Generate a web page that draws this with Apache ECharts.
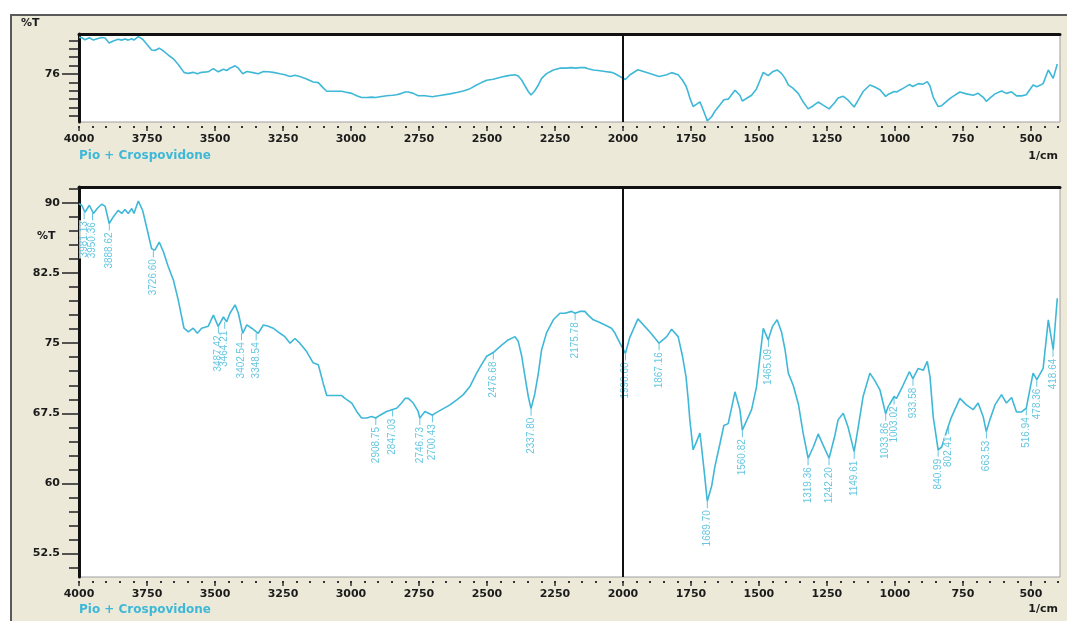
<!DOCTYPE html>
<html>
<head>
<meta charset="utf-8">
<title>Pio + Crospovidone</title>
<script src="https://cdn.jsdelivr.net/npm/echarts@6/dist/echarts.min.js"></script>
<style>
  html, body { margin: 0; padding: 0; background: #fff; overflow: hidden; }
  #frame { position: absolute; left: 10px; top: 14px; width: 1080px; height: 630px; background: #ece9d8; border: 2px solid #5a5a5a; }
  #chart { position: absolute; left: 0; top: 0; width: 1067px; height: 621px; }
</style>
</head>
<body>
<div id="frame"></div>
<div id="chart"></div>
<script>
// spectrum (1/cm, %T)
const wavenumber = [
  4000, 3990, 3978, 3962, 3947, 3933, 3917, 3904, 3889, 3874, 3856, 3843, 3831, 3819, 3806, 3798,
  3782, 3766, 3749, 3733, 3721, 3705, 3690, 3672, 3653, 3635, 3614, 3598, 3580, 3565, 3549, 3525,
  3506, 3488, 3469, 3457, 3445, 3426, 3414, 3398, 3383, 3365, 3341, 3322, 3304, 3286, 3261, 3243,
  3224, 3206, 3188, 3163, 3139, 3120, 3102, 3089, 3034, 3022, 2997, 2979, 2961, 2942, 2924, 2909,
  2893, 2869, 2847, 2832, 2814, 2801, 2789, 2771, 2753, 2747, 2728, 2722, 2700, 2691, 2667, 2636,
  2611, 2587, 2562, 2538, 2520, 2501, 2477, 2446, 2422, 2397, 2385, 2372, 2360, 2348, 2338, 2324,
  2311, 2299, 2281, 2256, 2232, 2213, 2189, 2176, 2158, 2140, 2128, 2109, 2091, 2066, 2042, 2029,
  2011, 1991, 1975, 1945, 1901, 1867, 1839, 1821, 1797, 1781, 1768, 1760, 1754, 1742, 1729, 1717,
  1711, 1702, 1693, 1690, 1674, 1662, 1643, 1629, 1613, 1588, 1570, 1561, 1527, 1509, 1496, 1484,
  1466, 1450, 1433, 1417, 1404, 1392, 1374, 1355, 1337, 1319, 1300, 1282, 1264, 1242, 1221, 1209,
  1190, 1172, 1150, 1135, 1117, 1092, 1074, 1055, 1034, 1025, 1003, 994, 970, 947, 934, 914,
  896, 881, 871, 859, 841, 828, 805, 792, 761, 737, 712, 694, 675, 664, 651, 632,
  608, 590, 571, 553, 534, 517, 492, 478, 455, 436, 418, 403
];
const transmittance = [
  89.9, 89.75, 89.0, 89.75, 88.87, 89.4, 89.86, 89.65, 87.8, 88.5, 89.2, 88.87, 89.3, 88.87, 89.4, 88.87,
  90.2, 89.2, 87.1, 85.1, 84.95, 85.8, 84.8, 83.2, 81.75, 79.6, 76.6, 76.2, 76.6, 76.06, 76.6, 76.8,
  78.0, 76.8, 77.8, 77.3, 78.2, 79.1, 78.2, 76.06, 76.95, 76.6, 76.06, 76.95, 76.8, 76.6, 76.06, 75.7,
  75.0, 75.5, 75.0, 74.1, 72.9, 72.7, 70.7, 69.4, 69.4, 69.1, 68.6, 67.7, 67.0, 67.0, 67.16, 67.0,
  67.3, 67.7, 67.9, 68.05, 68.6, 69.1, 69.1, 68.6, 67.7, 67.0, 67.7, 67.9, 67.3, 67.5, 67.9, 68.4,
  68.95, 69.5, 70.4, 71.8, 72.7, 73.6, 74.0, 74.8, 75.35, 75.7, 75.2, 73.6, 71.4, 69.3, 68.0, 69.6,
  71.8, 74.3, 76.1, 77.5, 78.2, 78.2, 78.4, 78.2, 78.4, 78.4, 78.0, 77.5, 77.3, 76.95, 76.6, 76.06,
  75.0, 73.9, 75.6, 77.6, 76.2, 75.0, 75.7, 76.5, 75.7, 73.6, 71.4, 68.95, 66.8, 63.6, 64.5, 65.4,
  63.9, 61.5, 59.0, 58.1, 59.7, 61.8, 64.3, 66.2, 66.4, 69.8, 67.9, 65.7, 67.9, 70.3, 73.6, 76.6,
  75.35, 76.8, 77.5, 76.2, 74.3, 71.8, 70.5, 68.5, 65.3, 62.7, 63.9, 65.3, 64.1, 62.7, 65.1, 66.8,
  67.5, 66.0, 63.4, 66.0, 69.3, 71.8, 71.0, 70.0, 67.45, 68.2, 69.3, 69.1, 70.5, 71.95, 71.2, 72.3,
  72.1, 73.05, 71.4, 67.1, 63.6, 63.9, 66.0, 67.1, 69.1, 68.4, 67.9, 68.6, 67.1, 65.55, 66.8, 68.4,
  69.5, 68.6, 69.2, 67.65, 67.65, 68.05, 71.8, 71.1, 72.3, 77.5, 74.3, 79.8
];

// labelled peaks
const peakWavenumber = [
  3981.13, 3950.36, 3888.62, 3726.60, 3487.42, 3464.21, 3402.54, 3348.54,
  2908.75, 2847.03, 2746.73, 2700.43, 2476.68, 2337.80, 2175.78, 1990.60,
  1867.16, 1689.70, 1560.82, 1465.09, 1319.36, 1242.20, 1149.61, 1033.86,
  1003.02, 933.58, 840.99, 802.41, 663.53, 516.94, 478.36, 418.64
];
const peakTransmittance = [
  89.0, 88.9, 87.8, 84.95, 76.8, 77.3, 76.06, 76.06,
  67.0, 67.9, 67.0, 67.3, 74.0, 68.0, 78.2, 73.9,
  75.0, 58.1, 65.7, 75.35, 62.7, 62.7, 63.4, 67.45,
  69.2, 71.2, 63.6, 66.0, 65.55, 68.05, 71.1, 74.3
];

// axis ticks
const xMajorTicks = [4000, 3750, 3500, 3250, 3000, 2750, 2500, 2250, 2000, 1750, 1500, 1250, 1000, 750, 500];
const xMinorTicks = [];
for (let w = 4000; w >= 400; w -= 50) xMinorTicks.push(w);
const topYMajor = [76];
const topYMinor = [60, 63.2, 66.4, 69.6, 72.8, 76, 79.2, 82.4, 85.6, 88.8];
const bottomYMajor = [52.5, 60, 67.5, 75, 82.5, 90];
const bottomYMinor = [];
for (let i = 0; i <= 27; i++) bottomYMinor.push(51 + 1.5 * i);

const lineColor = '#3fb8d8';
const tickFont = { color: '#1b1b1b', fontSize: 11, fontWeight: 'bold', fontFamily: 'DejaVu Sans' };
const spectrum = wavenumber.map((w, i) => [w, transmittance[i]]);
const peaks = peakWavenumber.map((w, i) => [w, peakTransmittance[i]]);

const xMin = 393, xMax = 4000;

function xAxesFor(grid) {
  return [
    {
      gridIndex: grid, type: 'value', position: 'bottom', inverse: true, min: xMin, max: xMax, offset: 4,
      axisLine: { show: false }, splitLine: { show: false },
      axisTick: { customValues: xMinorTicks, length: 2, lineStyle: { color: '#333', width: 2 } },
      axisLabel: { customValues: xMajorTicks, margin: 8, formatter: (v) => String(v), ...tickFont }
    },
    {
      gridIndex: grid, type: 'value', position: 'bottom', inverse: true, min: xMin, max: xMax, offset: 4,
      axisLine: { show: false }, splitLine: { show: false },
      axisTick: { customValues: xMajorTicks, length: 5, lineStyle: { color: '#333', width: 1.5 } },
      axisLabel: { show: false }
    },
    {
      gridIndex: grid, type: 'value', position: 'top', inverse: true, min: xMin, max: xMax,
      axisLine: { lineStyle: { color: '#111', width: 3 } },
      axisTick: { show: false }, axisLabel: { show: false }, splitLine: { show: false }
    }
  ];
}

function yAxesFor(grid, min, max, minor, major) {
  return [
    {
      gridIndex: grid, type: 'value', position: 'left', min: min, max: max,
      axisLine: { show: true, lineStyle: { color: '#111', width: 3 } },
      splitLine: { show: false },
      axisTick: { show: true, customValues: minor, length: 10, lineStyle: { color: '#222', width: 1.5 } },
      axisLabel: { customValues: major, margin: 19, formatter: (v) => String(v), ...tickFont }
    },
    {
      gridIndex: grid, type: 'value', position: 'left', min: min, max: max,
      axisLine: { show: false }, splitLine: { show: false },
      axisTick: { show: true, customValues: major, length: 17, lineStyle: { color: '#222', width: 1.5 } },
      axisLabel: { show: false }
    }
  ];
}

const line2000 = {
  symbol: 'none', silent: true, animation: false,
  label: { show: false },
  lineStyle: { color: '#111', width: 2, type: 'solid' },
  data: [{ xAxis: 2000 }]
};

const chart = echarts.init(document.getElementById('chart'));
chart.setOption({
  animation: false,
  grid: [
    { left: 79, right: 7, top: 34, height: 88, show: true, backgroundColor: '#fff', borderColor: '#a0a0a0', borderWidth: 1 },
    { left: 79, right: 7, top: 187, height: 390, show: true, backgroundColor: '#fff', borderColor: '#a0a0a0', borderWidth: 1 }
  ],
  xAxis: [...xAxesFor(0), ...xAxesFor(1)],
  yAxis: [
    ...yAxesFor(0, 57.7, 91.2, topYMinor, topYMajor),
    ...yAxesFor(1, 50, 91.7, bottomYMinor, bottomYMajor)
  ],
  graphic: [
    { type: 'text', left: 21, top: 18, style: { text: '%T', fill: '#1b1b1b', font: 'bold 11px "DejaVu Sans"' } },
    { type: 'text', left: 79, top: 150, style: { text: 'Pio + Crospovidone', fill: lineColor, font: 'bold 12px "DejaVu Sans"' } },
    { type: 'text', right: 9, top: 151, style: { text: '1/cm', fill: '#1b1b1b', font: 'bold 11px "DejaVu Sans"' } },
    { type: 'text', left: 37, top: 231, style: { text: '%T', fill: '#1b1b1b', font: 'bold 11px "DejaVu Sans"' } },
    { type: 'text', left: 79, top: 604, style: { text: 'Pio + Crospovidone', fill: lineColor, font: 'bold 12px "DejaVu Sans"' } },
    { type: 'text', right: 9, top: 604, style: { text: '1/cm', fill: '#1b1b1b', font: 'bold 11px "DejaVu Sans"' } }
  ],
  series: [
    {
      name: 'overview', type: 'line', xAxisIndex: 0, yAxisIndex: 0, z: 2,
      data: spectrum, showSymbol: false, clip: true,
      lineStyle: { color: lineColor, width: 1.6 },
      markLine: line2000
    },
    {
      name: 'Pio + Crospovidone', type: 'line', xAxisIndex: 3, yAxisIndex: 2, z: 2,
      data: spectrum, showSymbol: false, clip: true,
      lineStyle: { color: lineColor, width: 1.6 },
      markLine: line2000
    },
    {
      name: 'peaks', type: 'scatter', xAxisIndex: 3, yAxisIndex: 2, z: 4,
      data: peaks,
      symbol: 'rect', symbolSize: [1, 7], symbolOffset: [0, 3.5],
      itemStyle: { color: lineColor },
      label: {
        show: true, position: 'bottom', distance: 1, rotate: 90,
        align: 'right', verticalAlign: 'middle',
        color: lineColor, fontSize: 10, fontFamily: 'Liberation Sans',
        backgroundColor: '#fff', padding: [0, 1],
        formatter: (p) => p.value[0].toFixed(2)
      },
      labelLayout: { hideOverlap: false }
    }
  ]
});
</script>
</body>
</html>
